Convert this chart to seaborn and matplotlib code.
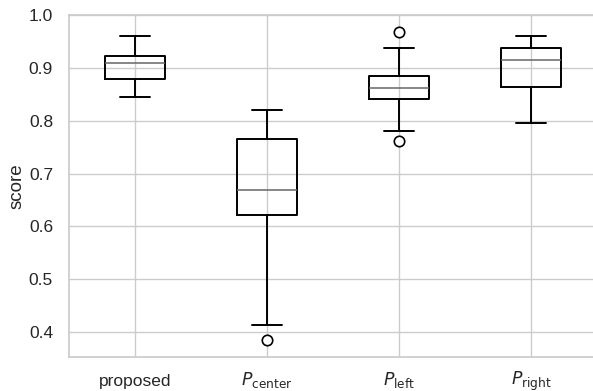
import matplotlib
matplotlib.use("Agg")
import matplotlib.pyplot as plt
import matplotlib.transforms as mtransforms
import seaborn as sns

# box statistics
labels = ["proposed", r"$P_{\rm center}$", r"$P_{\rm left}$", r"$P_{\rm right}$"]
whislo = [0.845, 0.414, 0.781, 0.795]
q1 = [0.879, 0.621, 0.841, 0.864]
med = [0.910, 0.669, 0.862, 0.914]
q3 = [0.922, 0.766, 0.885, 0.937]
whishi = [0.961, 0.820, 0.9375, 0.961]
fliers = [[], [0.384], [0.967, 0.761], []]

sns.set_theme(style="whitegrid")
plt.rcParams['font.family'] = ['Liberation Sans', 'DejaVu Sans']

stats = []
for i in range(len(labels)):
    stats.append({
        'label': labels[i],
        'whislo': whislo[i],
        'q1': q1[i],
        'med': med[i],
        'q3': q3[i],
        'whishi': whishi[i],
        'fliers': fliers[i],
    })

fig = plt.figure(figsize=(5.93, 3.91), dpi=100)
ax = fig.add_axes([69 / 593, 1 - 357 / 391, 528 / 593, 342 / 391])

ax.bxp(
    stats,
    positions=range(len(labels)),
    widths=0.45,
    boxprops=dict(color='black', linewidth=1.4),
    whiskerprops=dict(color='black', linewidth=1.4),
    capprops=dict(color='black', linewidth=1.4),
    medianprops=dict(color='#666666', linewidth=1.1),
    flierprops=dict(marker='o', markerfacecolor='white',
                    markeredgecolor='black', markersize=7.5, markeredgewidth=1.2),
)

ax.set_xlim(-0.5, 3.5)
ax.set_ylim(0.3527, 1.0)
ax.set_yticks([0.4, 0.5, 0.6, 0.7, 0.8, 0.9, 1.0])
ax.set_ylabel("score", fontsize=13.5, labelpad=2.5)
ax.tick_params(axis='x', labelsize=12.5, length=0, pad=9)
ax.tick_params(axis='y', labelsize=12.5, length=0, pad=11.5)
ax.grid(True, axis='both')

# plain-text label sits a bit lower so its baseline lines up with the P labels
lab = ax.get_xticklabels()[0]
lab.set_transform(lab.get_transform()
                  + mtransforms.ScaledTranslation(0, -3 / 72, fig.dpi_scale_trans))

plt.savefig("out.png", dpi=100)
